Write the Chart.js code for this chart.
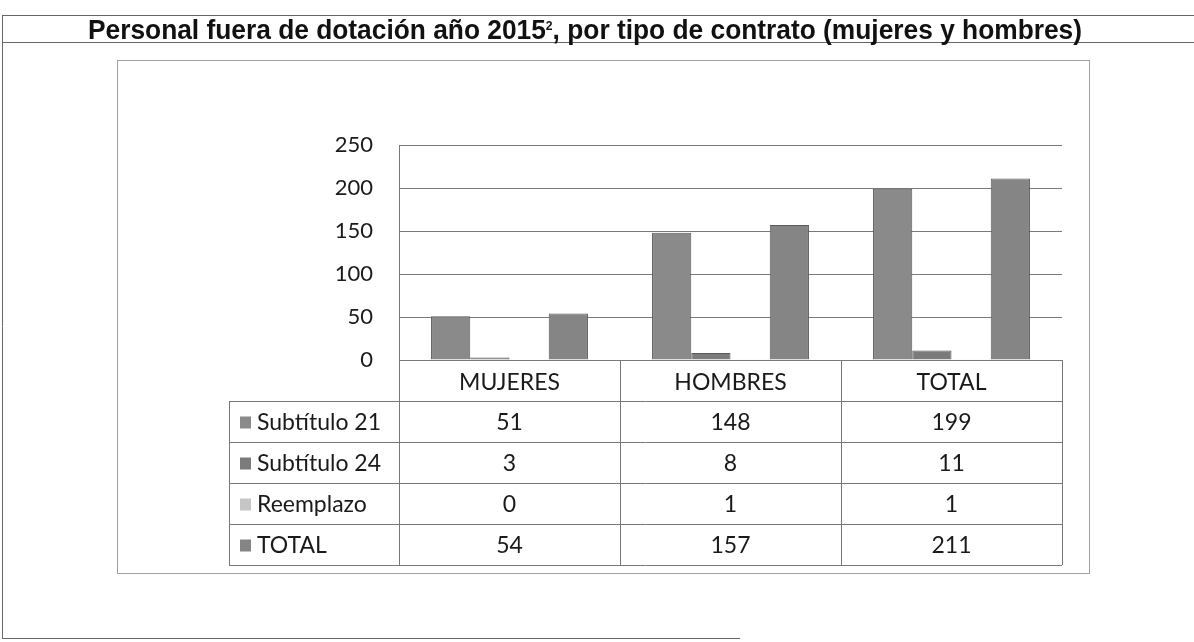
<!DOCTYPE html>
<html>
<head>
<meta charset="utf-8">
<script src="https://cdn.jsdelivr.net/npm/chart.js@4/dist/chart.umd.min.js"></script>
<style>
  html, body { margin: 0; padding: 0; background: #fff; }
  canvas { display: block; }
</style>
</head>
<body>
<canvas id="chart" width="1194" height="642"></canvas>
<script>
// data
const categories = ['MUJERES', 'HOMBRES', 'TOTAL'];
const seriesNames = ['Subtítulo 21', 'Subtítulo 24', 'Reemplazo', 'TOTAL'];
const subtitulo21 = [51, 148, 199];
const subtitulo24 = [3, 8, 11];
const reemplazo = [0, 1, 1];
const totals = [54, 157, 211];
const yTicks = [0, 50, 100, 150, 200, 250];

const seriesColors = ['#8a8a8a', '#7b7b7b', '#c6c6c6', '#858585'];
const textFont = 'Lato, "Open Sans", sans-serif';
const titleFont = '"Liberation Sans Narrow", "Liberation Sans", Arial, sans-serif';

// frames, title and the data table under the bars
const decorPlugin = {
    id: 'decor',
    beforeDraw(chart) {
        const ctx = chart.ctx;
        ctx.save();
        ctx.fillStyle = '#fff';
        ctx.fillRect(0, 0, chart.width, chart.height);

        // outer page box
        ctx.strokeStyle = '#666';
        ctx.lineWidth = 1;
        ctx.beginPath();
        ctx.moveTo(2, 15.5); ctx.lineTo(1194, 15.5);
        ctx.moveTo(2, 42.5); ctx.lineTo(1194, 42.5);
        ctx.moveTo(2.5, 15); ctx.lineTo(2.5, 638);
        ctx.moveTo(2, 638.5); ctx.lineTo(740, 638.5);
        ctx.stroke();

        // chart frame
        ctx.strokeStyle = '#a0a0a0';
        ctx.strokeRect(117.5, 60.5, 972, 513);

        // title, bold and narrow
        const part1 = 'Personal fuera de dotación año 2015';
        const sup = '2';
        const part2 = ', por tipo de contrato (mujeres y hombres)';
        ctx.fillStyle = '#111';
        ctx.textBaseline = 'alphabetic';
        ctx.textAlign = 'left';
        ctx.font = 'bold 28px ' + titleFont;
        const w1 = ctx.measureText(part1).width;
        const w2 = ctx.measureText(part2).width;
        ctx.font = 'bold 13px ' + titleFont;
        const ws = ctx.measureText(sup).width;
        const sx = 994 / (w1 + w2 + ws);
        ctx.translate(88, 39);
        ctx.scale(sx, 1);
        ctx.font = 'bold 28px ' + titleFont;
        ctx.fillText(part1, 0, 0);
        ctx.font = 'bold 13px ' + titleFont;
        ctx.fillText(sup, w1, -9);
        ctx.font = 'bold 28px ' + titleFont;
        ctx.fillText(part2, w1 + ws, 0);
        ctx.restore();
    },
    afterDraw(chart) {
        const ctx = chart.ctx;
        const x = chart.scales.x;
        const area = chart.chartArea;
        const colW = (area.right - area.left) / categories.length;
        const tableLeft = 229;
        const headerBottom = 401;
        const rowH = 41;
        const rows = [subtitulo21, subtitulo24, reemplazo, totals];
        const tableBottom = headerBottom + rowH * rows.length;

        ctx.save();
        ctx.strokeStyle = '#777';
        ctx.lineWidth = 1;
        ctx.beginPath();
        // column lines
        for (let i = 0; i <= categories.length; i++) {
            const cx = Math.round(area.left + colW * i) + 0.5;
            ctx.moveTo(cx, area.bottom); ctx.lineTo(cx, tableBottom);
        }
        ctx.moveTo(tableLeft + 0.5, headerBottom); ctx.lineTo(tableLeft + 0.5, tableBottom);
        // row lines
        for (let r = 0; r <= rows.length; r++) {
            const ry = headerBottom + rowH * r + 0.5;
            ctx.moveTo(tableLeft, ry); ctx.lineTo(area.right, ry);
        }
        ctx.stroke();

        ctx.fillStyle = '#1a1a1a';
        ctx.font = '23px ' + textFont;
        ctx.textAlign = 'center';
        ctx.textBaseline = 'middle';
        categories.forEach((c, i) => {
            ctx.fillText(c, x.getPixelForValue(i), (area.bottom + headerBottom) / 2 + 2);
        });
        rows.forEach((vals, r) => {
            const cy = headerBottom + rowH * r + rowH / 2 + 1;
            vals.forEach((v, i) => {
                ctx.fillText(String(v), x.getPixelForValue(i), cy);
            });
        });
        ctx.textAlign = 'left';
        seriesNames.forEach((name, r) => {
            const cy = headerBottom + rowH * r + rowH / 2 + 1;
            ctx.fillStyle = seriesColors[r];
            ctx.fillRect(240, cy - 6, 11, 12);
            ctx.fillStyle = '#1a1a1a';
            ctx.fillText(name, 257, cy);
        });
        ctx.restore();
    }
};

const ctx = document.getElementById('chart').getContext('2d');
const allSeries = [subtitulo21, subtitulo24, reemplazo, totals];

new Chart(ctx, {
    type: 'bar',
    data: {
        labels: categories,
        datasets: allSeries.map((vals, i) => ({
            label: seriesNames[i],
            data: vals,
            backgroundColor: seriesColors[i],
            borderColor: '#5a5a5a',
            borderWidth: 1,
            barPercentage: 1,
            categoryPercentage: 0.71
        }))
    },
    options: {
        responsive: false,
        animation: false,
        layout: {
            padding: { left: 0, top: 145, right: 132, bottom: 282 }
        },
        plugins: {
            legend: { display: false },
            tooltip: { enabled: false }
        },
        scales: {
            x: {
                display: false
            },
            y: {
                min: 0,
                max: 250,
                afterFit(scale) {
                    scale.width = 399;
                },
                afterBuildTicks(scale) {
                    scale.ticks = yTicks.map(v => ({ value: v }));
                },
                grid: {
                    color: '#7a7a7a',
                    drawTicks: false
                },
                border: {
                    display: true,
                    color: '#777'
                },
                ticks: {
                    padding: 26,
                    color: '#1a1a1a',
                    font: { family: 'Lato, "Open Sans", sans-serif', size: 22 }
                }
            }
        }
    },
    plugins: [decorPlugin]
});
</script>
</body>
</html>
